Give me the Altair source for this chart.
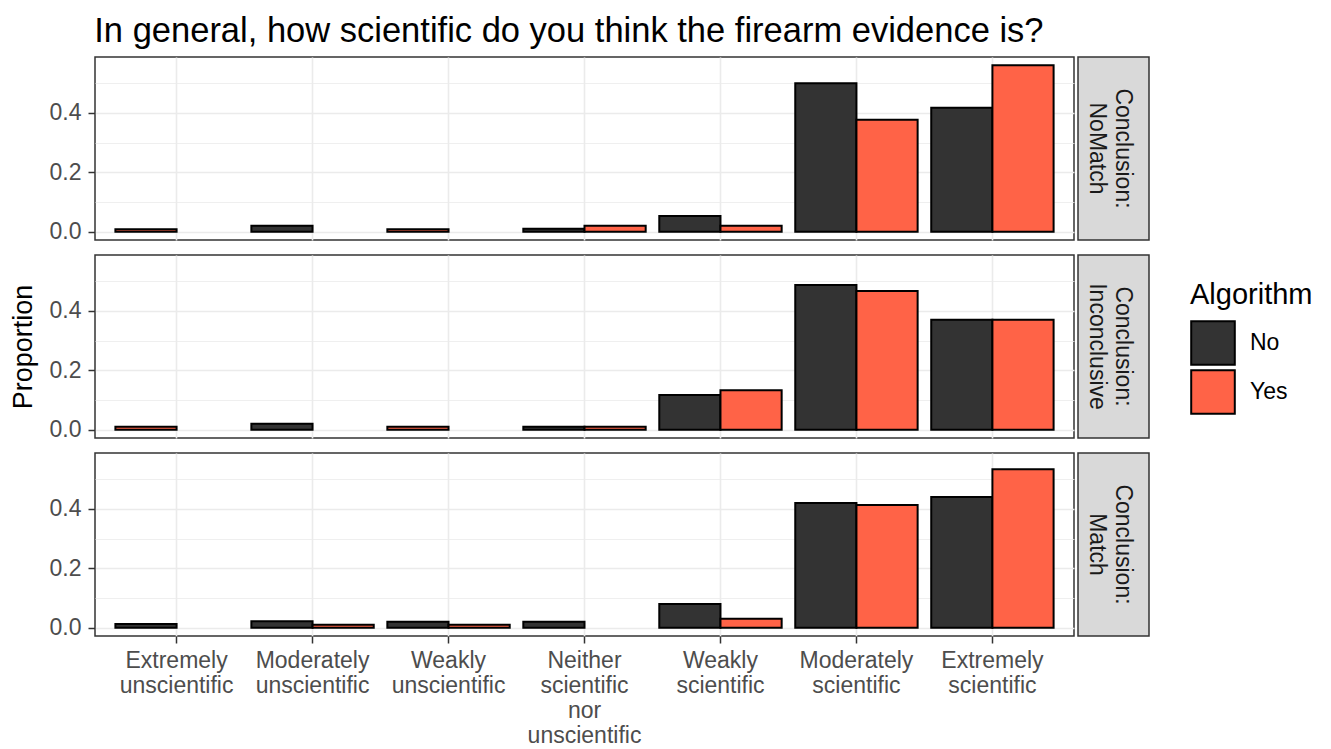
import altair as alt
import pandas as pd

FONT = "Liberation Sans"

categories = [
    "Extremely\nunscientific",
    "Moderately\nunscientific",
    "Weakly\nunscientific",
    "Neither\nscientific\nnor\nunscientific",
    "Weakly\nscientific",
    "Moderately\nscientific",
    "Extremely\nscientific",
]
conclusions = ["NoMatch", "Inconclusive", "Match"]
algorithms = ["No", "Yes"]
colors = ["#333333", "#FF6347"]

# proportions per category (None = no bar)
nomatch_no = [None, 0.02, None, 0.01, 0.053, 0.50, 0.417]
nomatch_yes = [0.008, None, 0.008, 0.02, 0.02, 0.377, 0.56]
inconclusive_no = [None, 0.02, None, 0.01, 0.117, 0.487, 0.37]
inconclusive_yes = [0.01, None, 0.01, 0.01, 0.133, 0.467, 0.37]
match_no = [0.012, 0.022, 0.02, 0.02, 0.08, 0.42, 0.44]
match_yes = [None, 0.01, 0.01, None, 0.03, 0.413, 0.533]

values = {
    ("NoMatch", "No"): nomatch_no,
    ("NoMatch", "Yes"): nomatch_yes,
    ("Inconclusive", "No"): inconclusive_no,
    ("Inconclusive", "Yes"): inconclusive_yes,
    ("Match", "No"): match_no,
    ("Match", "Yes"): match_yes,
}

rows = []
for c in conclusions:
    for i, cat in enumerate(categories):
        present = [a for a in algorithms if values[(c, a)][i] is not None]
        for a in present:
            slot = 0 if len(present) == 1 else algorithms.index(a)
            rows.append(dict(conclusion=c, category=cat, Algorithm=a,
                             slot=slot, value=values[(c, a)][i]))
df = pd.DataFrame(rows)

PW, PH = 979, 183
major_test = "round(datum.value*10) % 2 == 0"


def panel(c, show_x, ytitle):
    xaxis = alt.Axis(
        title=None,
        labels=show_x,
        ticks=show_x,
        grid=True,
        bandPosition=0.5,
        gridWidth=1.6,
        labelAngle=0,
        labelExpr="split(datum.value, '\\n')",
        labelLineHeight=25,
        labelPadding=6 if show_x else 0,
    )
    yaxis = alt.Axis(
        title=ytitle if ytitle else None,
        values=[0, 0.1, 0.2, 0.3, 0.4, 0.5],
        labelExpr=f"{major_test} ? format(datum.value, '.1f') : ''",
        tickOpacity={"condition": {"test": major_test, "value": 1}, "value": 0},
        gridWidth={"condition": {"test": major_test, "value": 1.6}, "value": 0.8},
    )
    return alt.Chart(df).transform_filter(alt.datum.conclusion == c).mark_bar(
        stroke="black", strokeWidth=2
    ).encode(
        x=alt.X("category:N", sort=categories,
                scale=alt.Scale(domain=categories, paddingInner=0.1, paddingOuter=0.15),
                axis=xaxis),
        xOffset=alt.XOffset("slot:O", scale=alt.Scale(domain=[0, 1], paddingInner=0, paddingOuter=0)),
        y=alt.Y("value:Q", stack=None,
                scale=alt.Scale(domain=[-0.028, 0.588], nice=False, zero=False),
                axis=yaxis),
        color=alt.Color("Algorithm:N",
                        scale=alt.Scale(domain=algorithms, range=colors),
                        legend=alt.Legend(title="Algorithm", orient="none",
                                          legendX=1095, legendY=224)),
    ).properties(width=PW, height=PH)


def strip(c):
    sdf = pd.DataFrame({"label": ["Conclusion:|" + c]})
    return alt.Chart(sdf, view=alt.ViewBackground(fill="#D9D9D9", stroke="#333333", strokeWidth=1.5)).mark_text(
        angle=90, lineBreak="|", fontSize=23, font=FONT, color="#1A1A1A",
        lineHeight=26, baseline="middle", align="center"
    ).encode(
        x=alt.value(44.5), y=alt.value(PH / 2), text="label:N"
    ).properties(width=71, height=PH)


rowcharts = []
for i, c in enumerate(conclusions):
    p = panel(c, show_x=(i == 2), ytitle=("Proportion" if i == 1 else ""))
    rowcharts.append(alt.hconcat(p, strip(c), spacing=2))

chart = alt.vconcat(*rowcharts, spacing=9).properties(
    title=alt.TitleParams(
        "In general, how scientific do you think the firearm evidence is?",
        anchor="start", fontSize=34.5, font=FONT, fontWeight="normal", color="black",
        offset=7, dx=86,
    ),
    padding={"left": 0, "top": 5, "right": 5, "bottom": 5},
).configure_view(
    stroke="#333333", strokeWidth=1.5
).configure_axis(
    domain=False,
    gridColor="#EBEBEB",
    tickColor="#333333",
    tickWidth=1.5,
    tickSize=7,
    labelColor="#4D4D4D",
    labelFont=FONT,
    labelFontSize=23,
    labelPadding=7,
    titleFont=FONT,
    titleFontSize=27,
    titleFontWeight="normal",
    titleColor="black",
    titlePadding=12,
).configure_legend(
    titleFont=FONT, titleFontSize=29, titleFontWeight="normal", titleColor="black",
    labelFont=FONT, labelFontSize=23, labelColor="black",
    symbolType="square", symbolSize=1900, symbolStrokeColor="black",
    symbolStrokeWidth=2, symbolOpacity=1, labelOffset=14, rowPadding=-9,
    titlePadding=10,
)

chart.save("out.html", embed_options={"renderer": "svg", "actions": False})
